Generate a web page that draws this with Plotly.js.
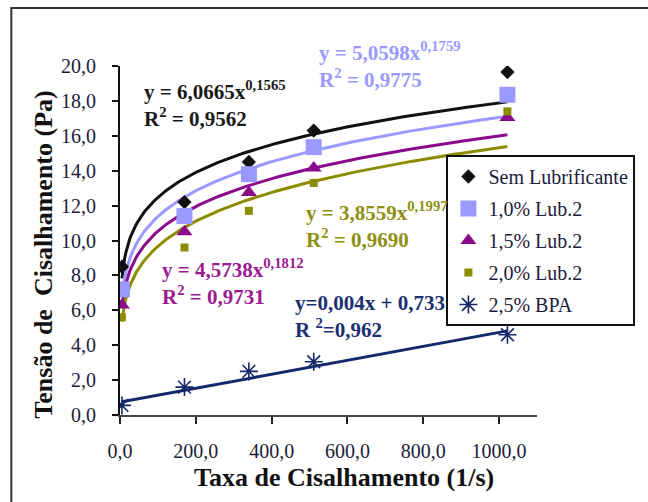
<!DOCTYPE html>
<html><head><meta charset="utf-8">
<script src="https://cdn.plot.ly/plotly-3.0.1.min.js"></script>
<style>html,body{margin:0;padding:0;background:#fff}</style>
</head><body><div id="chart" style="width:648px;height:502px"></div>
<script>
// ---- data ----
const shearRate = [5.1, 170, 340, 511, 1022];
const semLub = [8.5, 12.2, 14.5, 16.3, 19.65];
const lub10 = [7.2, 11.4, 13.8, 15.35, 18.35];
const lub15 = [6.3, 10.5, 12.75, 14.15, 17.05];
const lub20 = [5.6, 9.6, 11.7, 13.3, 17.4];
const bpa25 = [0.55, 1.6, 2.5, 3.05, 4.6];
const seriesNames = ["Sem Lubrificante", "1,0% Lub.2", "1,5% Lub.2", "2,0% Lub.2", "2,5% BPA"];
// trendline equations shown on the chart
const powerA = [6.0665, 5.0598, 4.5738, 3.8559];
const powerB = [0.1565, 0.1759, 0.1812, 0.1997];
const linSlope = 0.004, linIntercept = 0.733;
const eqTexts = [
  "y = 6,0665x<sup>0,1565</sup><br>R<sup>2</sup> = 0,9562",
  "y = 5,0598x<sup>0,1759</sup><br>R<sup>2</sup> = 0,9775",
  "y = 4,5738x<sup>0,1812</sup><br>R<sup>2</sup> = 0,9731",
  "y = 3,8559x<sup>0,1997</sup><br>R<sup>2</sup> = 0,9690",
  "y=0,004x + 0,733<br>R <sup>2</sup>=0,962"
];
const xTickVals = [0, 200, 400, 600, 800, 1000];
const xTickText = ["0,0", "200,0", "400,0", "600,0", "800,0", "1000,0"];
const yTickVals = [0, 2, 4, 6, 8, 10, 12, 14, 16, 18, 20];
const yTickText = ["0,0", "2,0", "4,0", "6,0", "8,0", "10,0", "12,0", "14,0", "16,0", "18,0", "20,0"];
const xTitle = "Taxa de Cisalhamento (1/s)";
const yTitle = "Tensão de  Cisalhamento (Pa)";

// ---- styles ----
const colors = ["#111111", "#9999FF", "#8B0A8B", "#8C8C00", "#14286B"];
const textColors = ["#1a1a1a", "#9999FF", "#9B1B90", "#8F8F10", "#1C2F70"];
const symbols = ["diamond", "square", "triangle-up", "square", "asterisk-open"];
const sizes = [11, 16, 14, 8, 15];
const serif = "Liberation Serif, Times New Roman, serif";
const allY = [semLub, lub10, lub15, lub20, bpa25];

const xMin = Math.min(...shearRate), xMax = Math.max(...shearRate);
const grid = [];
for (let i = 0; i <= 300; i++) grid.push(xMin + (xMax - xMin) * i / 300);

const traces = [];
for (let k = 0; k < 4; k++) {
  traces.push({x: grid, y: grid.map(v => powerA[k] * Math.pow(v, powerB[k])),
    mode: "lines", line: {color: colors[k], width: 3}, showlegend: false, hoverinfo: "skip"});
}
traces.push({x: [xMin, xMax], y: [linSlope * xMin + linIntercept, linSlope * xMax + linIntercept],
  mode: "lines", line: {color: colors[4], width: 3}, showlegend: false, hoverinfo: "skip"});
for (let k = 0; k < 5; k++) {
  traces.push({x: shearRate, y: allY[k], name: seriesNames[k], mode: "markers", legendgroup: "g" + k,
    marker: {symbol: symbols[k], size: sizes[k], color: colors[k],
      line: {color: colors[k], width: k === 4 ? 1.6 : 0}}});
}

// positions: [x (data), y, yref]
const eqPos = [[59, 17.8, "y"], [519, 1.004, "paper"], [106, 7.65, "y"], [486, 10.86, "y"], [457, 5.64, "y"]];
const annotations = eqTexts.map((t, k) => ({
  text: t, x: eqPos[k][0], y: eqPos[k][1], xref: "x", yref: eqPos[k][2], xanchor: "left", yanchor: "middle",
  align: "left", showarrow: false, font: {family: serif, size: 21, color: textColors[k], weight: "bold"}
}));
annotations.push({text: xTitle, xref: "paper", yref: "paper", x: 0.5376, y: -0.1777, xanchor: "center", yanchor: "middle",
  showarrow: false, font: {family: serif, size: 26, color: "#111", weight: "bold"}});
annotations.push({text: yTitle, xref: "paper", yref: "paper", x: -0.183, y: 0.4585, xanchor: "center", yanchor: "middle",
  textangle: -90, showarrow: false, font: {family: serif, size: 26, color: "#111", weight: "bold"}});

const layout = {
  width: 648, height: 502,
  margin: {l: 120, r: 102, t: 66, b: 87},
  paper_bgcolor: "#fff", plot_bgcolor: "#fff",
  showlegend: true,
  xaxis: {range: [0, 1100], tickvals: xTickVals, ticktext: xTickText, showgrid: false, zeroline: false,
    showline: true, linecolor: "#444", linewidth: 2, ticks: "outside", ticklen: 7, tickwidth: 2, tickcolor: "#222",
    ticklabelstandoff: 10,
    tickfont: {family: serif, size: 20, color: "#1c1c3a"}},
  yaxis: {range: [0, 20], tickvals: yTickVals, ticktext: yTickText, showgrid: false, zeroline: false,
    showline: true, linecolor: "#111", linewidth: 2, ticks: "outside", ticklen: 6, tickwidth: 2, tickcolor: "#111",
    ticklabelstandoff: 12,
    tickfont: {family: serif, size: 20, color: "#1c1c3a"}},
  legend: {x: 1.236, xanchor: "right", y: 0.745, yanchor: "top", bgcolor: "#fff", bordercolor: "#111", borderwidth: 2,
    tracegroupgap: 3, font: {family: serif, size: 20, color: "#1c1c3a"}},
  annotations: annotations,
  shapes: [{type: "rect", xref: "paper", yref: "paper", x0: -0.2606, x1: 1.27, y0: -0.28, y1: 1.166,
    line: {color: "#333", width: 2}, fillcolor: "rgba(0,0,0,0)", layer: "below"}]
};

Plotly.newPlot("chart", traces, layout, {displayModeBar: false, staticPlot: true});
</script></body></html>
